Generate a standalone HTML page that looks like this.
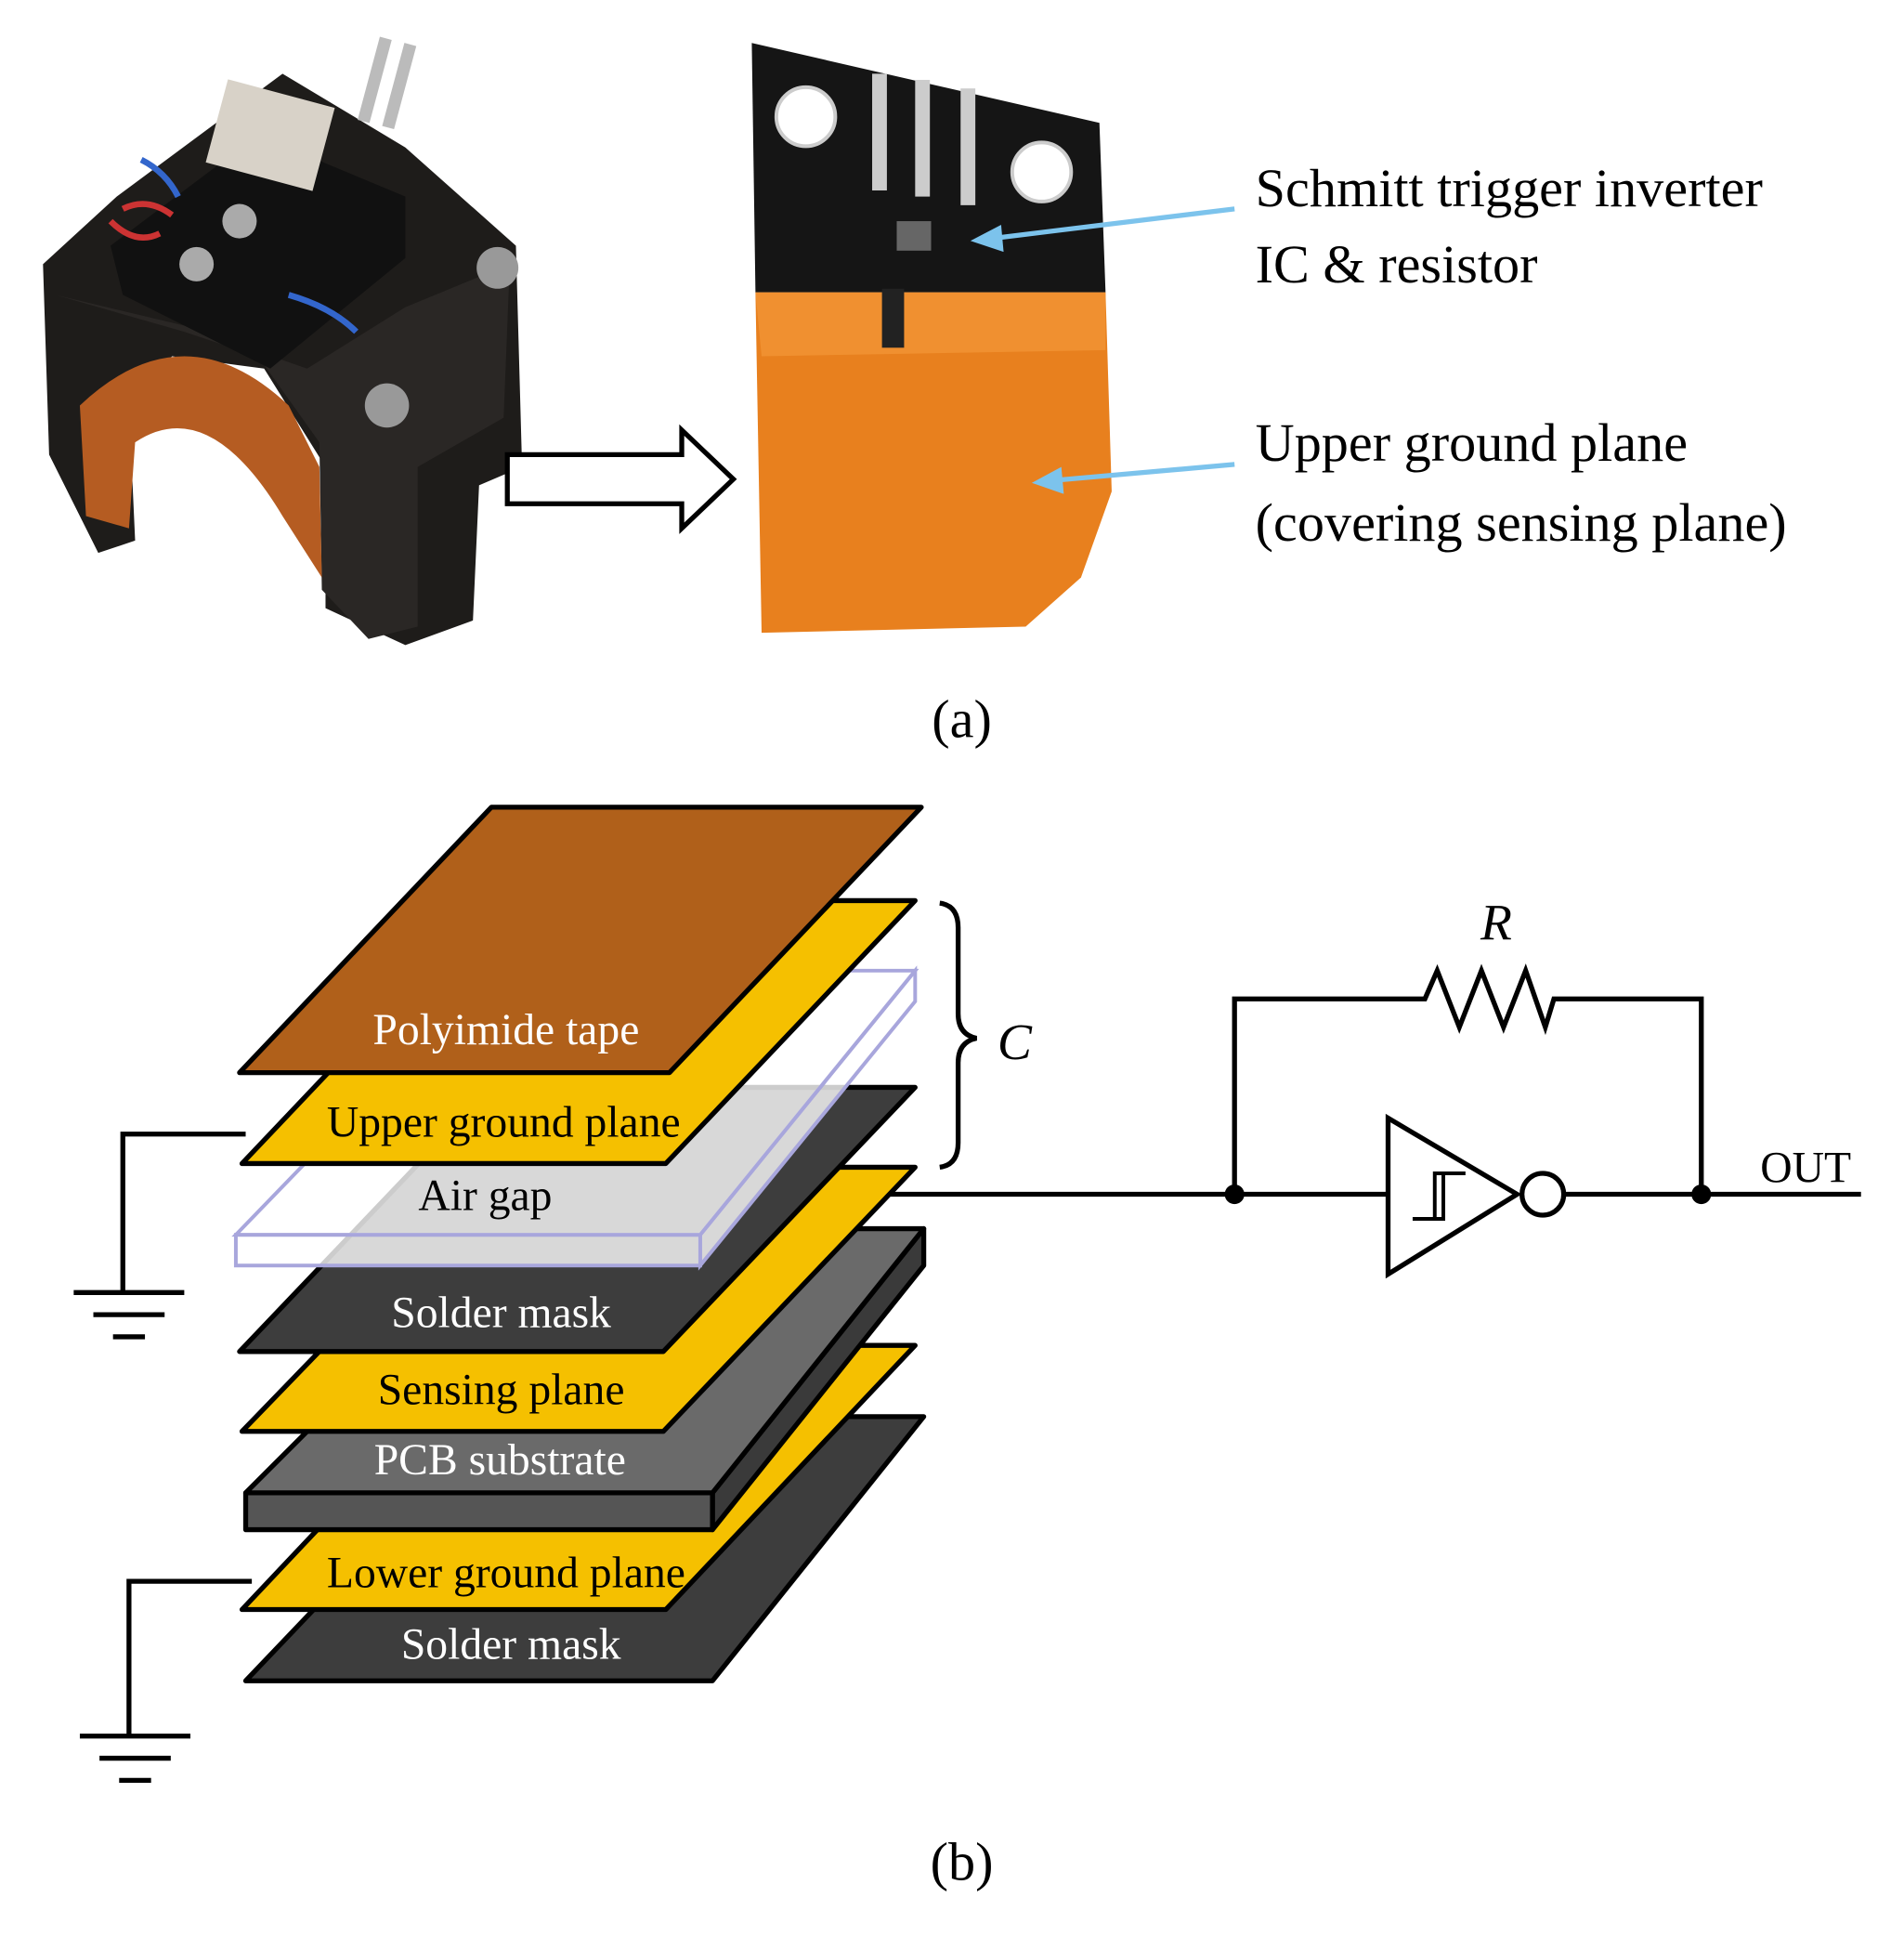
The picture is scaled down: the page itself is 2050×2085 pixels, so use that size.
<!DOCTYPE html>
<html><head><meta charset="utf-8"><style>html,body{margin:0;padding:0;background:#fff}svg{display:block}</style></head>
<body>
<svg width="2050" height="2085" viewBox="0 0 1550 1576.5" preserveAspectRatio="none" xmlns="http://www.w3.org/2000/svg" font-family="Liberation Serif, serif">
<rect width="1550" height="1577" fill="#fff"/>
<!-- left photo approximation -->
<polygon points="35,215 95,160 230,60 330,120 420,200 425,380 390,395 385,505 330,525 265,495 265,380 215,300 140,290 105,330 110,440 80,450 40,370" fill="#1e1c1a"/>
<polygon points="45,240 80,250 150,270 210,290 260,360 262,480 300,520 340,510 340,380 410,340 415,215 330,250 250,300 150,265" fill="#2a2725"/>
<path d="M65,330 Q150,250 235,330 L260,380 L262,470 L230,420 Q170,320 110,360 L105,430 L70,420 Z" fill="#b55c22"/>
<polygon points="90,200 210,110 330,160 330,210 220,300 100,240" fill="#111"/>
<rect x="175" y="75" width="90" height="70" fill="#d8d2c8" transform="rotate(15 220 110)"/>
<rect x="300" y="30" width="10" height="70" fill="#bbb" transform="rotate(15 305 65)"/>
<rect x="320" y="35" width="10" height="70" fill="#bbb" transform="rotate(15 325 70)"/>
<circle cx="195" cy="180" r="14" fill="#aaa"/><circle cx="160" cy="215" r="14" fill="#aaa"/>
<circle cx="405" cy="218" r="17" fill="#999"/><circle cx="315" cy="330" r="18" fill="#999"/>
<path d="M100,170 Q120,160 140,175 M90,180 Q110,200 130,190" stroke="#c33" stroke-width="5" fill="none"/>
<path d="M115,130 Q135,140 145,160 M235,240 Q270,250 290,270" stroke="#36c" stroke-width="5" fill="none"/>
<!-- right photo -->
<polygon points="612,35 895,100 900,238 615,238" fill="#151515"/>
<polygon points="615,238 900,238 905,400 880,470 835,510 620,515" fill="#e8801e"/>
<polygon points="615,238 900,238 900,285 620,290" fill="#f09030"/>
<rect x="718" y="235" width="18" height="48" fill="#222"/>
<circle cx="656" cy="95" r="24" fill="#fff" stroke="#ccc" stroke-width="3"/>
<circle cx="848" cy="140" r="24" fill="#fff" stroke="#ccc" stroke-width="3"/>
<rect x="710" y="60" width="12" height="95" fill="#ccc"/><rect x="745" y="65" width="12" height="95" fill="#ccc"/><rect x="782" y="72" width="12" height="95" fill="#ccc"/>
<rect x="730" y="180" width="28" height="24" fill="#666"/>
<!-- hollow arrow -->
<polygon points="413,370 555,370 555,350 597,390 555,430 555,410 413,410" fill="#fff" stroke="#000" stroke-width="4"/>
<!-- blue arrows -->
<g stroke="#7cc3ec" stroke-width="4" fill="#7cc3ec">
<line x1="1005" y1="170" x2="808" y2="194"/><polygon points="790,196 815,183 817,205" stroke="none"/>
<line x1="1005" y1="378" x2="858" y2="391"/><polygon points="840,393 864,380 866,402" stroke="none"/>
</g>
<g font-size="44" fill="#000">
<text x="1022" y="168">Schmitt trigger inverter</text>
<text x="1022" y="230">IC &amp; resistor</text>
<text x="1022" y="375">Upper ground plane</text>
<text x="1022" y="440">(covering sensing plane)</text>
<text x="783" y="600" text-anchor="middle">(a)</text>
<text x="783" y="1530" text-anchor="middle">(b)</text>
</g>
<!-- ground wires -->
<g stroke="#000" stroke-width="4" fill="none">
<polyline points="200,923 100,923 100,1052"/>
<line x1="60" y1="1052" x2="150" y2="1052"/><line x1="76" y1="1070" x2="134" y2="1070"/><line x1="92" y1="1088" x2="118" y2="1088"/>
<polyline points="205,1287 105,1287 105,1413"/>
<line x1="65" y1="1413" x2="155" y2="1413"/><line x1="81" y1="1431" x2="139" y2="1431"/><line x1="97" y1="1449" x2="123" y2="1449"/>
</g>
<!-- layers -->
<g stroke="#000" stroke-width="4" stroke-linejoin="round">
<polygon points="200,1368 405,1153 752,1153 580,1368" fill="#3d3d3d"/>
<polygon points="197,1310 400,1095 745,1095 542,1310" fill="#f5c000"/>
<polygon points="580,1215 752,1000 752,1030 580,1245" fill="#3a3a3a"/>
<rect x="200" y="1215" width="380" height="30" fill="#555"/>
<polygon points="200,1215 415,1000 752,1000 580,1215" fill="#6a6a6a"/>
<polygon points="197,1165 405,950 745,950 540,1165" fill="#f5c000"/>
<polygon points="195,1100 400,885 745,885 540,1100" fill="#3d3d3d"/>
</g>
<g stroke="#a8a6dc" stroke-width="3" fill="#fff" fill-opacity="0.8">
<polygon points="570,1005 745,790 745,815 570,1030"/>
<rect x="192" y="1005" width="378" height="25"/>
<polygon points="192,1005 400,790 745,790 570,1005"/>
</g>
<polygon points="197,947 400,733 745,733 542,947" fill="#f5c000" stroke="#000" stroke-width="4" stroke-linejoin="round"/>
<g stroke="#a8a6dc" stroke-width="2" fill="none" opacity="0.7">
<polyline points="570,1005 745,790 745,815"/>
</g>
<polygon points="195,873 400,657 750,657 545,873" fill="#b0601a" stroke="#000" stroke-width="4" stroke-linejoin="round"/>
<g font-size="36" text-anchor="middle">
<text x="412" y="850" fill="#fff">Polyimide tape</text>
<text x="410" y="925" fill="#000">Upper ground plane</text>
<text x="395" y="985" fill="#000">Air gap</text>
<text x="408" y="1080" fill="#fff">Solder mask</text>
<text x="408" y="1143" fill="#000">Sensing plane</text>
<text x="407" y="1200" fill="#fff">PCB substrate</text>
<text x="412" y="1292" fill="#000">Lower ground plane</text>
<text x="416" y="1350" fill="#fff">Solder mask</text>
</g>
<!-- brace -->
<path d="M765,735 Q780,737 780,755 L780,825 Q780,842 795,845 Q780,848 780,865 L780,930 Q780,948 765,950" stroke="#000" stroke-width="4" fill="none"/>
<text x="826" y="862" font-size="42" font-style="italic" text-anchor="middle">C</text>
<!-- circuit -->
<g stroke="#000" stroke-width="4" fill="none">
<polyline points="725,972 1130,972"/>
<polyline points="1005,972 1005,813 1160,813 1170,790 1188,836 1206,790 1224,836 1242,790 1258,836 1265,813 1385,813 1385,972"/>
<polygon points="1130,910 1130,1037 1235,972" fill="#fff"/>
<circle cx="1256" cy="972" r="17" fill="#fff"/>
<line x1="1273" y1="972" x2="1515" y2="972"/>
<polyline points="1150,992 1168,992 1168,955 1185,955" stroke-width="3"/>
<polyline points="1158,992 1175,992 1175,955 1193,955" stroke-width="3"/>
</g>
<circle cx="1005" cy="972" r="8"/><circle cx="1385" cy="972" r="8"/>
<text x="1218" y="765" font-size="42" font-style="italic" text-anchor="middle">R</text>
<text x="1470" y="962" font-size="36" text-anchor="middle">OUT</text>
</svg>
</body></html>
